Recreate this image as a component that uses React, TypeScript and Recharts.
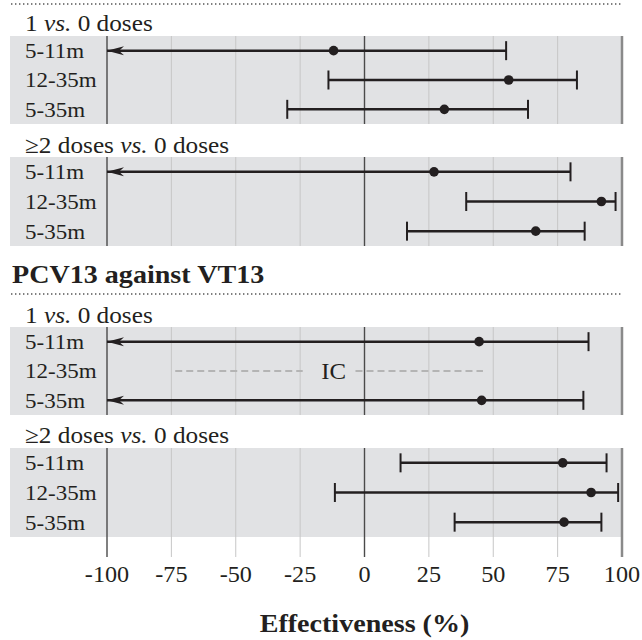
import { ScatterChart, Scatter, XAxis, YAxis, ReferenceLine } from 'recharts';

const ageGroups = ['5-11m', '12-35m', '5-35m'];
const xTicks = [-100, -75, -50, -25, 0, 25, 50, 75, 100];

// point estimates and 95% CI; null lower bound = runs off the left edge (arrow)
const oneDoseEst = [-12, 56, 31];
const oneDoseLow = [null, -14, -30];
const oneDoseHigh = [55, 82.5, 63.5];

const twoDoseEst = [27, 92, 66.5];
const twoDoseLow = [null, 39.5, 16.5];
const twoDoseHigh = [80, 97.5, 85.5];

const vtOneDoseEst = [44.5, null, 45.5];
const vtOneDoseLow = [null, null, null];
const vtOneDoseHigh = [87, null, 85];

const vtTwoDoseEst = [77, 88, 77.5];
const vtTwoDoseLow = [14, -11.5, 35];
const vtTwoDoseHigh = [94, 98.5, 92];

// "IC" row (12-35m, PCV13 1 vs. 0)
const icRow = 1;
const icLabelAt = -12;
const icLeft = [-73.5, -24];
const icRight = [-3.5, 46];

const FONT = '"Liberation Serif", "Times New Roman", serif';
const INK = '#231f20';
const STRETCH = 1.08;
const W = 642;

const AgeTick = (props: any) => {
  const { y, payload } = props;
  return (
    <text
      transform={`translate(25,${y}) scale(${STRETCH},1)`}
      dy="0.35em"
      textAnchor="start"
      fontFamily={FONT}
      fontSize={21.3}
      fill={INK}
    >
      {ageGroups[payload.value]}
    </text>
  );
};

const ValueTick = (props: any) => {
  const { x, y, payload } = props;
  return (
    <text
      transform={`translate(${x},${y}) scale(${STRETCH},1)`}
      dy={17}
      textAnchor="middle"
      fontFamily={FONT}
      fontSize={22.4}
      fill={INK}
    >
      {payload.value}
    </text>
  );
};

const AxisTitle = (props: any) => {
  const vb = props.viewBox || {};
  const cx = vb.x + vb.width / 2;
  return (
    <text
      transform={`translate(${cx},${vb.y + 75}) scale(${STRETCH},1)`}
      textAnchor="middle"
      fontFamily={FONT}
      fontSize={26}
      fontWeight="bold"
      fill={INK}
    >
      Effectiveness (%)
    </text>
  );
};

const EndShape = (props: any) => {
  const { cx, cy, payload } = props;
  if (payload.end === 'arrow') {
    return (
      <path
        d={`M${cx},${cy} L${cx + 17},${cy - 4.5} L${cx + 12},${cy} L${cx + 17},${cy + 4.5} Z`}
        fill={INK}
      />
    );
  }
  return <line x1={cx} x2={cx} y1={cy - 9.5} y2={cy + 9.5} stroke={INK} strokeWidth={2} />;
};

const Dot = (props: any) => <circle cx={props.cx} cy={props.cy} r={4.8} fill={INK} />;
const NoShape = () => <g />;
const IcText = (props: any) => (
  <text
    transform={`translate(${props.cx},${props.cy}) scale(${STRETCH},1)`}
    dy="0.35em"
    textAnchor="middle"
    fontFamily={FONT}
    fontSize={23}
    fill={INK}
  >
    IC
  </text>
);

type PanelProps = {
  top: number;
  bandHeight: number;
  est: (number | null)[];
  low: (number | null)[];
  high: (number | null)[];
  withIc?: boolean;
  withAxis?: boolean;
};

function Panel({ top, bandHeight, est, low, high, withIc, withAxis }: PanelProps) {
  const unit = bandHeight / 3;
  const below = withAxis ? 20 : 0;
  const axisH = withAxis ? 90 : 0;
  const yMax = 2.5 + below / unit;

  const intervals = est
    .map((v, i) =>
      v == null || high[i] == null
        ? null
        : [
            { x: low[i] ?? -100, y: i, end: low[i] == null ? 'arrow' : 'cap' },
            { x: high[i] as number, y: i, end: 'cap' },
          ]
    )
    .filter(Boolean) as any[];
  const dots = est.map((v, i) => (v == null ? null : { x: v, y: i })).filter(Boolean) as any[];

  return (
    <>
      <div
        style={{
          position: 'absolute',
          left: 10,
          top,
          width: 612,
          height: bandHeight,
          background: '#e1e2e4',
        }}
      />
      <div style={{ position: 'absolute', left: 0, top }}>
        <ScatterChart
          width={W}
          height={bandHeight + below + axisH}
          margin={{ top: 0, right: 20, bottom: 0, left: 10 }}
        >
          <XAxis
            type="number"
            dataKey="x"
            domain={[-100, 100]}
            ticks={xTicks}
            allowDataOverflow
            hide={!withAxis}
            height={axisH}
            axisLine={false}
            tickLine={false}
            tick={<ValueTick />}
            label={withAxis ? <AxisTitle /> : undefined}
          />
          <YAxis
            type="number"
            dataKey="y"
            domain={[-0.5, yMax]}
            ticks={[0, 1, 2]}
            reversed
            allowDataOverflow
            width={97}
            axisLine={false}
            tickLine={false}
            tick={<AgeTick />}
          />
          {xTicks.map((t) => (
            <ReferenceLine
              key={t}
              x={t}
              stroke={t === 100 ? '#8a8a8a' : t === 0 || t === -100 ? '#4a4a4a' : '#c6c6c6'}
              strokeWidth={t === 100 ? 2.5 : t === 0 || t === -100 ? 1.4 : 1}
            />
          ))}
          {withIc && (
            <>
              <Scatter
                data={icLeft.map((x) => ({ x, y: icRow }))}
                line={{ stroke: '#b4b4b4', strokeWidth: 2, strokeDasharray: '7 4' }}
                shape={<NoShape />}
                isAnimationActive={false}
              />
              <Scatter
                data={icRight.map((x) => ({ x, y: icRow }))}
                line={{ stroke: '#b4b4b4', strokeWidth: 2, strokeDasharray: '7 4' }}
                shape={<NoShape />}
                isAnimationActive={false}
              />
              <Scatter
                data={[{ x: icLabelAt, y: icRow }]}
                shape={<IcText />}
                isAnimationActive={false}
              />
            </>
          )}
          {intervals.map((d, k) => (
            <Scatter
              key={k}
              data={d}
              line={{ stroke: INK, strokeWidth: 2.5 }}
              shape={<EndShape />}
              isAnimationActive={false}
            />
          ))}
          <Scatter data={dots} shape={<Dot />} isAnimationActive={false} />
        </ScatterChart>
      </div>
    </>
  );
}

const Dotted = ({ y }: { y: number }) => (
  <svg style={{ position: 'absolute', left: 0, top: y - 2 }} width={W} height={4}>
    <line x1={11} x2={621} y1={2} y2={2} stroke="#555" strokeWidth={1.4} strokeDasharray="1.4 2.6" />
  </svg>
);

const Heading = ({ y, children, bold, size, left }: any) => (
  <div
    style={{
      position: 'absolute',
      left,
      top: y - 15,
      height: 30,
      lineHeight: '30px',
      fontFamily: FONT,
      fontSize: size,
      fontWeight: bold ? 'bold' : 'normal',
      color: INK,
      whiteSpace: 'nowrap',
      transform: `scaleX(${STRETCH})`,
      transformOrigin: 'left center',
    }}
  >
    {children}
  </div>
);

export default function App() {
  return (
    <div style={{ position: 'absolute', left: 0, top: 0, width: W, height: 640, background: '#fff', overflow: 'hidden' }}>
      <Dotted y={4} />
      <Heading y={23} size={23.4} left={25}>
        1 <i>vs.</i> 0 doses
      </Heading>
      <Panel top={36} bandHeight={88} est={oneDoseEst} low={oneDoseLow} high={oneDoseHigh} />
      <Heading y={145} size={23.4} left={25}>
        ≥2 doses <i>vs.</i> 0 doses
      </Heading>
      <Panel top={157} bandHeight={89} est={twoDoseEst} low={twoDoseLow} high={twoDoseHigh} />
      <Heading y={275} size={26} left={12} bold>
        PCV13 against VT13
      </Heading>
      <Dotted y={294} />
      <Heading y={315} size={23.4} left={25}>
        1 <i>vs.</i> 0 doses
      </Heading>
      <Panel top={327} bandHeight={88} est={vtOneDoseEst} low={vtOneDoseLow} high={vtOneDoseHigh} withIc />
      <Heading y={435} size={23.4} left={25}>
        ≥2 doses <i>vs.</i> 0 doses
      </Heading>
      <Panel
        top={448}
        bandHeight={89}
        est={vtTwoDoseEst}
        low={vtTwoDoseLow}
        high={vtTwoDoseHigh}
        withAxis
      />
    </div>
  );
}
